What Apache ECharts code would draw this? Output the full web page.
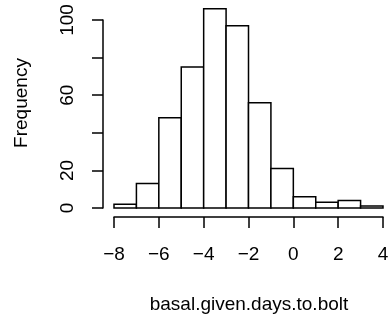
<!DOCTYPE html>
<html>
<head>
<meta charset="utf-8">
<script src="https://cdn.jsdelivr.net/npm/echarts@6/dist/echarts.min.js"></script>
<style>
  html, body { margin: 0; padding: 0; background: #fff; }
  #chart { width: 392px; height: 319px; }
</style>
</head>
<body>
<div id="chart"></div>
<script>
// histogram breaks and counts
const breaks = [-8, -7, -6, -5, -4, -3, -2, -1, 0, 1, 2, 3, 4];
const counts = [2, 13, 48, 75, 106, 97, 56, 21, 6, 3, 4, 1];
const yLabels = [0, 20, 60, 100];
const xTitle = "basal.given.days.to.bolt";
const yTitle = "Frequency";

const font = "Liberation Sans, Arial, Helvetica, sans-serif";

const bins = counts.map((c, i) => [breaks[i], breaks[i + 1], c]);

const chart = echarts.init(document.getElementById("chart"));

chart.setOption({
  animation: false,
  backgroundColor: "#fff",
  grid: { left: 114, right: 9, top: 20, bottom: 111 },
  // axis titles sit centred on the whole plot region, like R does
  graphic: [
    {
      type: "text",
      x: 249,
      y: 305,
      style: {
        text: xTitle,
        fill: "#000",
        font: "19px " + font,
        align: "center",
        verticalAlign: "middle",
      },
    },
    {
      type: "text",
      x: 22,
      y: 103,
      rotation: Math.PI / 2,
      style: {
        text: yTitle,
        fill: "#000",
        font: "19px " + font,
        align: "center",
        verticalAlign: "middle",
      },
    },
  ],
  xAxis: {
    type: "value",
    min: -8,
    max: 4,
    interval: 2,
    offset: 9,
    axisLine: { onZero: false, lineStyle: { color: "#000", width: 1.5 } },
    axisTick: { length: 11, lineStyle: { color: "#000", width: 1.5 } },
    axisLabel: {
      color: "#000",
      fontSize: 19,
      fontFamily: font,
      margin: 28,
      formatter: (v) => (v < 0 ? "\u2212" + Math.abs(v) : String(v)),
    },
    splitLine: { show: false },
  },
  yAxis: {
    type: "value",
    min: 0,
    max: 100,
    interval: 20,
    offset: 11,
    axisLine: { show: true, onZero: false, lineStyle: { color: "#000", width: 1.5 } },
    axisTick: { show: true, length: 11, lineStyle: { color: "#000", width: 1.5 } },
    axisLabel: {
      color: "#000",
      fontSize: 19,
      fontFamily: font,
      rotate: 90,
      margin: 26,
      formatter: (v) => (yLabels.includes(v) ? String(v) : ""),
    },
    splitLine: { show: false },
  },
  series: [
    {
      type: "custom",
      clip: false,
      data: bins,
      encode: { x: [0, 1], y: 2 },
      renderItem: (params, api) => {
        const top = api.coord([api.value(0), api.value(2)]);
        const bot = api.coord([api.value(1), 0]);
        return {
          type: "rect",
          shape: { x: top[0], y: top[1], width: bot[0] - top[0], height: bot[1] - top[1] },
          style: { fill: "#fff", stroke: "#000", lineWidth: 1.5 },
        };
      },
    },
  ],
});
</script>
</body>
</html>
